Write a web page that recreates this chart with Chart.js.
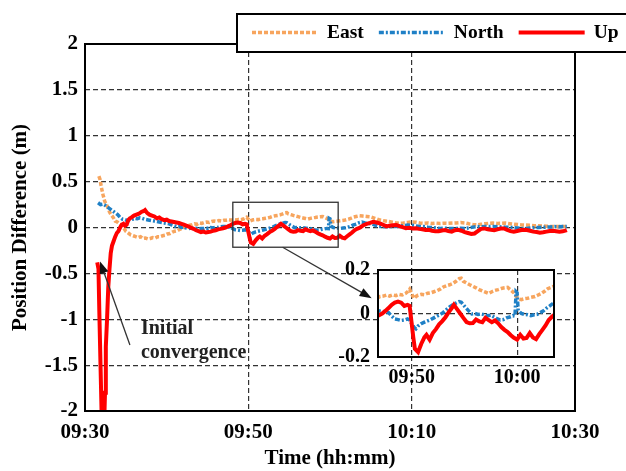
<!DOCTYPE html>
<html>
<head>
<meta charset="utf-8">
<script src="https://cdn.jsdelivr.net/npm/chart.js@4.4.1/dist/chart.umd.min.js"></script>
<style>
  html, body { margin: 0; padding: 0; background: #fff; }
  #wrap { position: relative; width: 626px; height: 471px; overflow: hidden; }
  #main { position: absolute; left: 0; top: 0; }
  #zoom { position: absolute; left: 330px; top: 250px; }
</style>
</head>
<body>
<div id="wrap">
  <canvas id="main" width="626" height="471"></canvas>
  <canvas id="zoom" width="232" height="145"></canvas>
</div>
<script>
// time is in minutes after 09:30
const eastT = [1.7, 1.85, 2.0, 2.2, 2.4, 2.6, 2.8, 3.0, 3.2, 3.45, 3.7, 3.95, 4.2, 4.45, 4.7, 5.0, 5.3, 5.6, 5.9, 6.2, 6.5, 6.8, 7.1, 7.4, 7.7, 8.0, 8.3, 8.6, 8.9, 9.2, 9.5, 9.8, 10.1, 10.4, 10.7, 11.0, 11.3, 11.6, 11.9, 12.2, 12.5, 12.8, 13.1, 13.4, 13.7, 14.0, 14.3, 14.6, 14.9, 15.2, 15.5, 15.8, 16.1, 16.4, 16.7, 17.0, 17.3, 17.6, 17.9, 18.2, 18.5, 18.8, 19.1, 19.4, 19.6, 19.8, 20.0, 20.2, 20.4, 20.6, 20.9, 21.2, 21.5, 21.8, 22.1, 22.4, 22.7, 23.0, 23.3, 23.6, 23.9, 24.2, 24.5, 24.7, 24.9, 25.2, 25.5, 25.8, 26.1, 26.4, 26.7, 27.0, 27.3, 27.6, 27.9, 28.2, 28.5, 28.8, 29.1, 29.4, 29.7, 29.9, 30.1, 30.4, 30.7, 31.0, 31.3, 31.7, 32.0, 32.3, 32.6, 32.9, 33.2, 33.6, 34.0, 34.5, 35.0, 35.5, 36.0, 36.5, 37.0, 37.5, 38.0, 38.5, 39.0, 39.5, 40.0, 40.5, 41.0, 41.5, 42.0, 42.5, 43.0, 43.5, 44.0, 44.5, 45.0, 45.5, 46.0, 46.5, 47.0, 47.5, 48.0, 48.5, 49.0, 49.5, 50.0, 50.5, 51.0, 51.5, 52.0, 52.5, 53.0, 53.5, 54.0, 54.5, 55.0, 55.5, 56.0, 56.5, 57.0, 57.5, 58.0, 58.5, 59.0];
const eastV = [0.56, 0.52, 0.44, 0.36, 0.29, 0.25, 0.22, 0.17, 0.14, 0.11, 0.07, 0.06, 0.04, 0.03, 0.0, -0.04, -0.06, -0.08, -0.09, -0.1, -0.11, -0.1, -0.12, -0.115, -0.125, -0.12, -0.11, -0.115, -0.1, -0.1, -0.09, -0.085, -0.07, -0.065, -0.05, -0.04, -0.035, -0.02, -0.01, 0.0, 0.02, 0.025, 0.03, 0.04, 0.035, 0.05, 0.045, 0.055, 0.06, 0.055, 0.065, 0.07, 0.065, 0.075, 0.07, 0.078, 0.08, 0.085, 0.08, 0.086, 0.082, 0.088, 0.085, 0.092, 0.1, 0.112, 0.09, 0.07, 0.078, 0.084, 0.088, 0.086, 0.093, 0.095, 0.1, 0.105, 0.112, 0.122, 0.128, 0.132, 0.138, 0.148, 0.16, 0.162, 0.148, 0.14, 0.132, 0.125, 0.118, 0.11, 0.104, 0.098, 0.092, 0.1, 0.106, 0.11, 0.115, 0.118, 0.12, 0.108, 0.095, 0.078, 0.068, 0.064, 0.068, 0.07, 0.074, 0.078, 0.085, 0.092, 0.102, 0.114, 0.12, 0.128, 0.125, 0.12, 0.115, 0.1, 0.085, 0.075, 0.068, 0.06, 0.052, 0.046, 0.05, 0.055, 0.062, 0.058, 0.05, 0.046, 0.05, 0.044, 0.048, 0.044, 0.047, 0.045, 0.048, 0.05, 0.054, 0.05, 0.04, 0.032, 0.028, 0.035, 0.042, 0.046, 0.048, 0.044, 0.046, 0.048, 0.042, 0.036, 0.032, 0.028, 0.026, 0.024, 0.02, 0.018, 0.016, 0.014, 0.012, 0.01, 0.012, 0.01, 0.01];

const northT = [1.6, 1.9, 2.2, 2.5, 2.8, 3.1, 3.4, 3.7, 4.0, 4.3, 4.6, 4.9, 5.2, 5.5, 5.8, 6.1, 6.4, 6.7, 7.0, 7.3, 7.6, 7.9, 8.2, 8.5, 8.8, 9.1, 9.4, 9.7, 10.0, 10.3, 10.6, 10.9, 11.2, 11.5, 11.8, 12.1, 12.4, 12.7, 13.0, 13.3, 13.6, 13.9, 14.2, 14.5, 14.8, 15.1, 15.4, 15.7, 16.0, 16.3, 16.6, 16.9, 17.2, 17.5, 17.8, 18.1, 18.4, 18.7, 19.0, 19.3, 19.6, 19.8, 20.0, 20.2, 20.4, 20.6, 20.9, 21.2, 21.5, 21.8, 22.1, 22.4, 22.7, 23.0, 23.3, 23.6, 23.9, 24.2, 24.5, 24.7, 24.9, 25.1, 25.4, 25.7, 26.0, 26.3, 26.6, 26.9, 27.2, 27.5, 27.8, 28.1, 28.4, 28.7, 29.0, 29.3, 29.6, 29.8, 29.9, 30.0, 30.1, 30.4, 30.7, 31.0, 31.3, 31.6, 31.9, 32.2, 32.5, 32.8, 33.1, 33.5, 33.9, 34.3, 34.7, 35.1, 35.5, 36.0, 36.5, 37.0, 37.5, 38.0, 38.5, 39.0, 39.5, 40.0, 40.5, 41.0, 41.5, 42.0, 42.5, 43.0, 43.5, 44.0, 44.5, 45.0, 45.5, 46.0, 46.5, 47.0, 47.5, 48.0, 48.5, 49.0, 49.5, 50.0, 50.5, 51.0, 51.5, 52.0, 52.5, 53.0, 53.5, 54.0, 54.5, 55.0, 55.5, 56.0, 56.5, 57.0, 57.5, 58.0, 58.5, 59.0];
const northV = [0.27, 0.25, 0.255, 0.24, 0.22, 0.2, 0.18, 0.16, 0.14, 0.11, 0.09, 0.085, 0.075, 0.08, 0.09, 0.1, 0.095, 0.105, 0.1, 0.09, 0.085, 0.08, 0.075, 0.07, 0.065, 0.06, 0.055, 0.05, 0.045, 0.04, 0.03, 0.02, 0.01, 0.012, 0.0, 0.005, -0.005, -0.01, -0.005, -0.012, -0.008, -0.015, -0.01, -0.012, -0.005, -0.01, 0.0, -0.005, 0.005, 0.0, 0.008, 0.012, 0.01, 0.006, 0.004, -0.012, -0.025, -0.028, -0.032, -0.03, -0.025, -0.03, -0.047, -0.062, -0.07, -0.058, -0.047, -0.04, -0.034, -0.028, -0.02, -0.012, -0.005, 0.005, 0.018, 0.03, 0.04, 0.048, 0.055, 0.052, 0.04, 0.028, 0.012, -0.002, 0.0, -0.004, -0.002, -0.006, -0.01, -0.008, -0.016, -0.024, -0.03, -0.028, -0.02, -0.016, -0.01, -0.012, 0.1, 0.095, 0.015, 0.0, -0.004, -0.006, -0.01, -0.006, -0.004, 0.004, 0.012, 0.025, 0.035, 0.05, 0.06, 0.05, 0.045, 0.04, 0.025, 0.01, 0.012, 0.008, 0.012, 0.01, 0.014, 0.02, 0.026, 0.025, 0.018, 0.012, 0.01, 0.004, 0.0, -0.006, -0.01, -0.008, -0.01, -0.012, -0.01, -0.008, -0.012, -0.004, 0.004, 0.01, 0.008, 0.012, 0.01, 0.012, 0.008, 0.006, 0.004, 0.002, -0.002, -0.006, -0.01, -0.01, -0.006, -0.002, 0.0, 0.002, 0.004, 0.006, 0.01, 0.008, 0.01, 0.012];

const upT = [1.5, 1.65, 1.75, 1.9, 2.0, 2.1, 2.3, 2.45, 2.55, 2.7, 2.85, 3.0, 3.15, 3.3, 3.5, 3.7, 3.9, 4.1, 4.3, 4.5, 4.7, 4.9, 5.1, 5.3, 5.5, 5.7, 6.0, 6.3, 6.6, 6.9, 7.2, 7.35, 7.6, 7.9, 8.2, 8.5, 8.8, 9.1, 9.4, 9.7, 10.0, 10.3, 10.6, 10.9, 11.2, 11.5, 11.8, 12.1, 12.4, 12.7, 13.0, 13.3, 13.6, 13.9, 14.2, 14.5, 14.8, 15.1, 15.4, 15.7, 16.0, 16.3, 16.6, 16.9, 17.2, 17.5, 17.8, 18.1, 18.4, 18.7, 19.0, 19.3, 19.6, 19.8, 20.0, 20.15, 20.3, 20.6, 20.9, 21.2, 21.4, 21.7, 22.0, 22.3, 22.6, 22.9, 23.2, 23.5, 23.8, 24.0, 24.3, 24.6, 24.9, 25.2, 25.5, 25.8, 26.1, 26.4, 26.7, 27.0, 27.3, 27.6, 27.9, 28.2, 28.5, 28.8, 29.1, 29.4, 29.7, 30.0, 30.3, 30.6, 30.9, 31.2, 31.5, 31.8, 32.1, 32.4, 32.7, 33.0, 33.3, 33.7, 34.1, 34.5, 34.9, 35.3, 35.7, 36.1, 36.5, 36.9, 37.3, 37.7, 38.1, 38.5, 38.9, 39.3, 39.7, 40.1, 40.5, 40.9, 41.3, 41.7, 42.1, 42.5, 42.9, 43.3, 43.7, 44.1, 44.5, 44.9, 45.3, 45.7, 46.1, 46.5, 46.9, 47.3, 47.7, 48.1, 48.5, 48.9, 49.3, 49.7, 50.1, 50.5, 50.9, 51.3, 51.7, 52.1, 52.5, 52.9, 53.3, 53.7, 54.1, 54.5, 54.9, 55.3, 55.7, 56.1, 56.5, 56.9, 57.3, 57.7, 58.1, 58.5, 58.8, 59.0];
const upV = [-0.38, -0.45, -0.9, -1.5, -1.9, -2.3, -2.3, -1.8, -1.3, -1.0, -0.65, -0.45, -0.28, -0.2, -0.15, -0.1, -0.06, -0.04, 0.0, 0.03, 0.04, 0.02, 0.03, 0.08, 0.1, 0.11, 0.13, 0.14, 0.15, 0.17, 0.18, 0.19, 0.16, 0.14, 0.13, 0.12, 0.1, 0.11, 0.09, 0.08, 0.085, 0.07, 0.065, 0.06, 0.055, 0.05, 0.04, 0.03, 0.02, 0.01, -0.005, -0.015, -0.03, -0.04, -0.05, -0.045, -0.055, -0.05, -0.045, -0.035, -0.03, -0.02, -0.015, -0.008, 0.0, 0.012, 0.025, 0.04, 0.05, 0.055, 0.05, 0.035, 0.04, 0.035, -0.047, -0.11, -0.163, -0.178, -0.14, -0.11, -0.098, -0.12, -0.09, -0.072, -0.05, -0.035, -0.017, 0.005, 0.025, 0.04, 0.02, 0.0, -0.02, -0.039, -0.045, -0.044, -0.028, -0.036, -0.04, -0.02, -0.03, -0.04, -0.032, -0.045, -0.062, -0.075, -0.085, -0.1, -0.112, -0.12, -0.098, -0.115, -0.112, -0.09, -0.11, -0.118, -0.095, -0.075, -0.055, -0.03, -0.015, 0.0, 0.025, 0.04, 0.05, 0.062, 0.055, 0.045, 0.03, 0.012, 0.02, 0.025, 0.028, 0.015, 0.005, -0.008, -0.004, -0.01, -0.008, -0.015, -0.02, -0.028, -0.025, -0.035, -0.042, -0.04, -0.032, -0.028, -0.04, -0.045, -0.03, -0.025, -0.035, -0.05, -0.06, -0.07, -0.065, -0.04, -0.015, -0.01, -0.02, -0.025, -0.03, -0.02, -0.012, -0.01, -0.025, -0.04, -0.045, -0.038, -0.03, -0.025, -0.028, -0.035, -0.045, -0.05, -0.057, -0.052, -0.045, -0.038, -0.035, -0.04, -0.045, -0.042, -0.035, -0.028];

const timeTicks = [0, 20, 40, 60];
const zoomTimeTicks = [20, 30];
const zoomRange = { t0: 16.8, t1: 33.5, v0: -0.2, v1: 0.2 };
const zoomBox = { t0: 18.1, t1: 31.0, v0: -0.215, v1: 0.275 };
const noteText = ['Initial', 'convergence'];
const noteAt = { t: 6.85, v: -1.1 };
const noteArrow = { t0: 5.5, v0: -1.28, t1: 1.84, v1: -0.37 };
const zoomArrow = { t0: 24.2, v0: -0.215, t1: 35.1, v1: -0.77 };

const FONT = '"Liberation Serif", "Times New Roman", serif';
Chart.defaults.font.family = FONT;
Chart.defaults.font.weight = 'bold';
Chart.defaults.color = '#000';

function hhmm(min) {
  const t = 9 * 60 + 30 + Math.round(min);
  const h = Math.floor(t / 60), m = t % 60;
  return String(h).padStart(2, '0') + ':' + String(m).padStart(2, '0');
}
const pts = (t, v) => t.map((x, i) => ({ x: x, y: v[i] }));

function makeDatasets() {
  return [
    { label: 'East', data: pts(eastT, eastV), borderColor: '#F7A55E', borderWidth: 3.5, borderDash: [4, 2], order: 3 },
    { label: 'North', data: pts(northT, northV), borderColor: '#1F80C6', borderWidth: 3.5, borderDash: [5, 2, 2, 2], order: 2 },
    { label: 'Up', data: pts(upT, upV), borderColor: '#FF0000', borderWidth: 4, order: 1 }
  ];
}

function arrow(ctx, x0, y0, x1, y1) {
  const a = Math.atan2(y1 - y0, x1 - x0), L = 12, W = 4.5;
  ctx.beginPath();
  ctx.moveTo(x0, y0);
  ctx.lineTo(x1 - L * 0.8 * Math.cos(a), y1 - L * 0.8 * Math.sin(a));
  ctx.stroke();
  ctx.beginPath();
  ctx.moveTo(x1, y1);
  ctx.lineTo(x1 - L * Math.cos(a) + W * Math.sin(a), y1 - L * Math.sin(a) - W * Math.cos(a));
  ctx.lineTo(x1 - L * Math.cos(a) - W * Math.sin(a), y1 - L * Math.sin(a) + W * Math.cos(a));
  ctx.closePath();
  ctx.fill();
}

const mainDecor = {
  id: 'mainDecor',
  afterDraw(chart) {
    const { ctx, chartArea: a, scales: { x, y } } = chart;
    ctx.save();
    // zoom window and arrows
    ctx.strokeStyle = '#333';
    ctx.fillStyle = '#111';
    ctx.lineWidth = 1.3;
    const bx0 = x.getPixelForValue(zoomBox.t0), bx1 = x.getPixelForValue(zoomBox.t1);
    const by0 = y.getPixelForValue(zoomBox.v1), by1 = y.getPixelForValue(zoomBox.v0);
    ctx.strokeRect(bx0, by0, bx1 - bx0, by1 - by0);
    arrow(ctx, x.getPixelForValue(zoomArrow.t0), y.getPixelForValue(zoomArrow.v0),
      x.getPixelForValue(zoomArrow.t1), y.getPixelForValue(zoomArrow.v1));
    arrow(ctx, x.getPixelForValue(noteArrow.t0), y.getPixelForValue(noteArrow.v0),
      x.getPixelForValue(noteArrow.t1), y.getPixelForValue(noteArrow.v1));
    ctx.font = 'bold 20px ' + FONT;
    ctx.fillStyle = '#222';
    ctx.textBaseline = 'middle';
    const nx = x.getPixelForValue(noteAt.t), ny = y.getPixelForValue(noteAt.v);
    noteText.forEach((s, i) => ctx.fillText(s, nx, ny + i * 24));

    // plot frame
    ctx.strokeStyle = '#000';
    ctx.lineWidth = 2;
    ctx.strokeRect(a.left, a.top, a.right - a.left, a.bottom - a.top);

    // legend box across the top
    ctx.fillStyle = '#fff';
    ctx.fillRect(237, 14, 400, 38);
    ctx.strokeRect(237, 14, 400, 38);
    ctx.font = 'bold 19.5px ' + FONT;
    let lx = 252;
    const cy = 32.5;
    chart.data.datasets.forEach(ds => {
      ctx.setLineDash(ds.borderDash || []);
      ctx.strokeStyle = ds.borderColor;
      ctx.lineWidth = ds.borderWidth;
      ctx.beginPath();
      ctx.moveTo(lx, cy);
      ctx.lineTo(lx + 66, cy);
      ctx.stroke();
      ctx.setLineDash([]);
      lx += 66 + 9;
      ctx.fillStyle = '#000';
      ctx.fillText(ds.label, lx, cy);
      lx += ctx.measureText(ds.label).width + 15;
    });
    ctx.restore();
  }
};

const zoomDecor = {
  id: 'zoomDecor',
  beforeDraw(chart) {
    const { ctx, chartArea: a } = chart;
    ctx.save();
    ctx.fillStyle = '#fff';
    ctx.fillRect(a.left, a.top, a.right - a.left, a.bottom - a.top);
    ctx.restore();
  },
  afterDraw(chart) {
    const { ctx, chartArea: a } = chart;
    ctx.save();
    ctx.strokeStyle = '#000';
    ctx.lineWidth = 2;
    ctx.strokeRect(a.left, a.top, a.right - a.left, a.bottom - a.top);
    ctx.restore();
  }
};

const gridColor = (lo, hi) => c => (c.tick && (c.tick.value <= lo || c.tick.value >= hi)) ? 'rgba(0,0,0,0)' : '#333';

new Chart(document.getElementById('main'), {
  type: 'line',
  data: { datasets: makeDatasets() },
  options: {
    responsive: false,
    animation: false,
    layout: { padding: { top: 44, right: 51, left: 0, bottom: 0 } },
    elements: { point: { radius: 0 }, line: { tension: 0, borderCapStyle: 'butt' } },
    plugins: { legend: { display: false }, tooltip: { enabled: false } },
    scales: {
      x: {
        type: 'linear', min: 0, max: 60,
        afterBuildTicks: s => { s.ticks = timeTicks.map(v => ({ value: v })); },
        afterFit: s => { s.height = 60; },
        ticks: { font: { size: 21, weight: 'bold' }, padding: 9, maxRotation: 0, callback: v => hhmm(v) },
        grid: { color: gridColor(0, 60), lineWidth: 1.2, drawTicks: false },
        border: { display: false, dash: [5, 3] },
        title: { display: true, text: 'Time (hh:mm)', font: { size: 21, weight: 'bold' }, padding: { top: 0, bottom: 0 } }
      },
      y: {
        min: -2, max: 2,
        ticks: { stepSize: 0.5, font: { size: 21, weight: 'bold' }, padding: 7, callback: v => String(v) },
        afterFit: s => { s.width = 85; },
        grid: { color: gridColor(-2, 2), lineWidth: 1.2, drawTicks: false },
        border: { display: false, dash: [5, 3] },
        title: { display: true, text: 'Position Difference (m)', font: { size: 21, weight: 'bold' }, padding: { top: 8, bottom: 0 } }
      }
    }
  },
  plugins: [mainDecor]
});

new Chart(document.getElementById('zoom'), {
  type: 'line',
  data: { datasets: makeDatasets() },
  options: {
    responsive: false,
    animation: false,
    layout: { padding: { top: 15, right: 8, left: 0, bottom: 0 } },
    elements: { point: { radius: 0 }, line: { tension: 0, borderCapStyle: 'butt' } },
    plugins: { legend: { display: false }, tooltip: { enabled: false } },
    scales: {
      x: {
        type: 'linear', min: zoomRange.t0, max: zoomRange.t1,
        afterBuildTicks: s => { s.ticks = zoomTimeTicks.map(v => ({ value: v })); },
        afterFit: s => { s.height = 38; },
        ticks: { font: { size: 20, weight: 'bold' }, padding: 9, maxRotation: 0, callback: v => hhmm(v) },
        grid: { color: '#333', lineWidth: 1.2, drawTicks: false },
        border: { display: false, dash: [5, 3] }
      },
      y: {
        min: zoomRange.v0, max: zoomRange.v1,
        ticks: { stepSize: 0.2, font: { size: 20, weight: 'bold' }, padding: 8, callback: v => String(Math.round(v * 10) / 10) },
        afterFit: s => { s.width = 48; },
        grid: { color: gridColor(-0.19, 0.19), lineWidth: 1.2, drawTicks: false },
        border: { display: false, dash: [5, 3] }
      }
    }
  },
  plugins: [zoomDecor]
});
</script>
</body>
</html>
